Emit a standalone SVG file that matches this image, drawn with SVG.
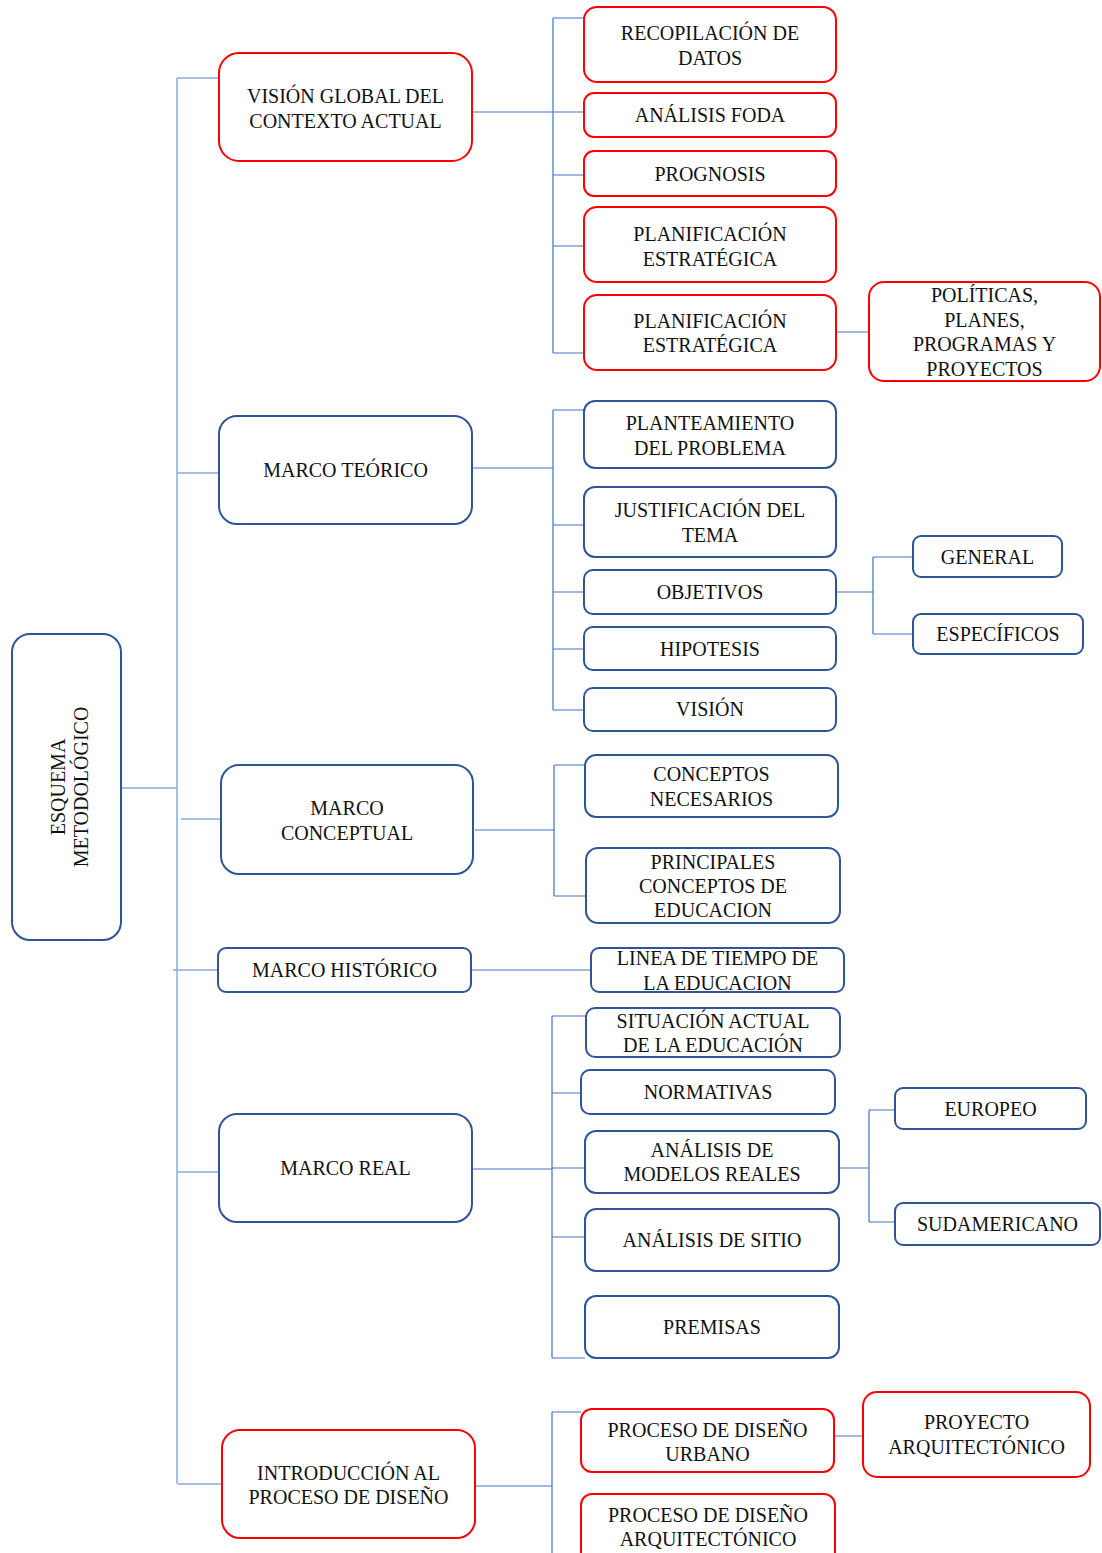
<svg xmlns="http://www.w3.org/2000/svg" width="1102" height="1553" viewBox="0 0 1102 1553">
<style>
.r{fill:#fff;stroke:#FF0000;stroke-width:2}
.b{fill:#fff;stroke:#2F5597;stroke-width:2}
text{font-family:"Liberation Serif","Times New Roman",serif;font-size:20px;fill:#111;text-anchor:middle}
.c{fill:none;stroke:#4472C4;stroke-width:1.2}
.t{fill:none;stroke:#8FAADC;stroke-width:1.5}
</style>
<rect width="1102" height="1553" fill="#fff"/>
<g id="connectors">
<path class="t" d="M177 78V1484M177 78H219M121 788H177M177 473H219M181 819H221M173 970H218M177 1172H219M178 1484H222"/>
<path class="c" d="M472 112H553M553 18V353M553 18H584M553 112H584M553 175H584M553 246H584M553 353H584M836 332H869"/>
<path class="c" d="M472 468H553M553 410V710M553 410H584M553 525H584M553 592H584M553 649H584M553 710H584M836 592H873M873 557V634M873 557H913M873 634H913"/>
<path class="c" d="M475 830H554M554 765V896M554 765H585M554 896H586"/>
<path class="c" d="M471 970H591"/>
<path class="c" d="M472 1169H552M552 1016V1358M552 1016H586M552 1093H581M552 1168H585M552 1237H585M552 1358H585M839 1168H869M869 1110V1222M869 1110H895M869 1222H895"/>
<path class="c" d="M475 1486H552M552 1412V1553M552 1412H581M834 1436H863"/>
</g>
<g id="esquema"><rect class="b" x="12" y="634" width="109" height="306" rx="18"/><text transform="translate(66,787) rotate(-90)"><tspan x="0" y="-1">ESQUEMA</tspan><tspan x="0" y="22">METODOLÓGICO</tspan></text></g>
<g id="vision-global"><rect class="r" x="219" y="53" width="253" height="108" rx="20"/><text><tspan x="345.5" y="103">VISIÓN GLOBAL DEL</tspan><tspan x="345.5" y="128">CONTEXTO ACTUAL</tspan></text></g>
<g id="recopilacion"><rect class="r" x="584" y="7" width="252" height="75" rx="13"/><text><tspan x="710" y="40">RECOPILACIÓN DE</tspan><tspan x="710" y="65">DATOS</tspan></text></g>
<g id="foda"><rect class="r" x="584" y="93" width="252" height="44" rx="10"/><text x="710" y="122">ANÁLISIS FODA</text></g>
<g id="prognosis"><rect class="r" x="584" y="151" width="252" height="45" rx="10"/><text x="710" y="181">PROGNOSIS</text></g>
<g id="planificacion1"><rect class="r" x="584" y="207" width="252" height="75" rx="13"/><text><tspan x="710" y="241">PLANIFICACIÓN</tspan><tspan x="710" y="266">ESTRATÉGICA</tspan></text></g>
<g id="planificacion2"><rect class="r" x="584" y="295" width="252" height="75" rx="13"/><text><tspan x="710" y="328">PLANIFICACIÓN</tspan><tspan x="710" y="352">ESTRATÉGICA</tspan></text></g>
<g id="politicas"><rect class="r" x="869" y="282" width="231" height="99" rx="15"/><text><tspan x="984.5" y="302">POLÍTICAS,</tspan><tspan x="984.5" y="327">PLANES,</tspan><tspan x="984.5" y="351">PROGRAMAS Y</tspan><tspan x="984.5" y="376">PROYECTOS</tspan></text></g>
<g id="marco-teorico"><rect class="b" x="219" y="416" width="253" height="108" rx="18"/><text x="345.5" y="477">MARCO TEÓRICO</text></g>
<g id="planteamiento"><rect class="b" x="584" y="401" width="252" height="67" rx="11"/><text><tspan x="710" y="430">PLANTEAMIENTO</tspan><tspan x="710" y="455">DEL PROBLEMA</tspan></text></g>
<g id="justificacion"><rect class="b" x="584" y="487" width="252" height="70" rx="11"/><text><tspan x="710" y="517">JUSTIFICACIÓN DEL</tspan><tspan x="710" y="542">TEMA</tspan></text></g>
<g id="objetivos"><rect class="b" x="584" y="570" width="252" height="44" rx="9"/><text x="710" y="599">OBJETIVOS</text></g>
<g id="hipotesis"><rect class="b" x="584" y="627" width="252" height="43" rx="9"/><text x="710" y="656">HIPOTESIS</text></g>
<g id="vision"><rect class="b" x="584" y="688" width="252" height="43" rx="9"/><text x="710" y="716">VISIÓN</text></g>
<g id="general"><rect class="b" x="913" y="536" width="149" height="41" rx="8"/><text x="987.5" y="564">GENERAL</text></g>
<g id="especificos"><rect class="b" x="913" y="614" width="170" height="40" rx="8"/><text x="998" y="641">ESPECÍFICOS</text></g>
<g id="marco-conceptual"><rect class="b" x="221" y="765" width="252" height="109" rx="18"/><text><tspan x="347" y="815">MARCO</tspan><tspan x="347" y="840">CONCEPTUAL</tspan></text></g>
<g id="conceptos-necesarios"><rect class="b" x="585" y="755" width="253" height="62" rx="11"/><text><tspan x="711.5" y="781">CONCEPTOS</tspan><tspan x="711.5" y="806">NECESARIOS</tspan></text></g>
<g id="principales-conceptos"><rect class="b" x="586" y="848" width="254" height="75" rx="12"/><text><tspan x="713" y="869">PRINCIPALES</tspan><tspan x="713" y="893">CONCEPTOS DE</tspan><tspan x="713" y="917">EDUCACION</tspan></text></g>
<g id="marco-historico"><rect class="b" x="218" y="948" width="253" height="44" rx="8"/><text x="344.5" y="977">MARCO HISTÓRICO</text></g>
<g id="linea-tiempo"><rect class="b" x="591" y="948" width="253" height="44" rx="8"/><text><tspan x="717.5" y="965">LINEA DE TIEMPO DE</tspan><tspan x="717.5" y="990">LA EDUCACION</tspan></text></g>
<g id="marco-real"><rect class="b" x="219" y="1114" width="253" height="108" rx="18"/><text x="345.5" y="1175">MARCO REAL</text></g>
<g id="situacion-actual"><rect class="b" x="586" y="1008" width="254" height="49" rx="9"/><text><tspan x="713" y="1028">SITUACIÓN ACTUAL</tspan><tspan x="713" y="1052">DE LA EDUCACIÓN</tspan></text></g>
<g id="normativas"><rect class="b" x="581" y="1070" width="254" height="44" rx="9"/><text x="708" y="1099">NORMATIVAS</text></g>
<g id="modelos-reales"><rect class="b" x="585" y="1131" width="254" height="62" rx="11"/><text><tspan x="712" y="1157">ANÁLISIS DE</tspan><tspan x="712" y="1181">MODELOS REALES</tspan></text></g>
<g id="analisis-sitio"><rect class="b" x="585" y="1209" width="254" height="62" rx="11"/><text x="712" y="1247">ANÁLISIS DE SITIO</text></g>
<g id="premisas"><rect class="b" x="585" y="1296" width="254" height="62" rx="11"/><text x="712" y="1334">PREMISAS</text></g>
<g id="europeo"><rect class="b" x="895" y="1088" width="191" height="41" rx="8"/><text x="990.5" y="1116">EUROPEO</text></g>
<g id="sudamericano"><rect class="b" x="895" y="1203" width="205" height="42" rx="8"/><text x="997.5" y="1231">SUDAMERICANO</text></g>
<g id="introduccion"><rect class="r" x="222" y="1430" width="253" height="108" rx="18"/><text><tspan x="348.5" y="1480">INTRODUCCIÓN AL</tspan><tspan x="348.5" y="1504">PROCESO DE DISEÑO</tspan></text></g>
<g id="diseno-urbano"><rect class="r" x="581" y="1409" width="253" height="63" rx="11"/><text><tspan x="707.5" y="1437">PROCESO DE DISEÑO</tspan><tspan x="707.5" y="1461">URBANO</tspan></text></g>
<g id="diseno-arquitectonico"><rect class="r" x="581" y="1494" width="254" height="70" rx="11"/><text><tspan x="708" y="1522">PROCESO DE DISEÑO</tspan><tspan x="708" y="1546">ARQUITECTÓNICO</tspan></text></g>
<g id="proyecto-arquitectonico"><rect class="r" x="863" y="1392" width="227" height="85" rx="14"/><text><tspan x="976.5" y="1429">PROYECTO</tspan><tspan x="976.5" y="1454">ARQUITECTÓNICO</tspan></text></g>
</svg>
